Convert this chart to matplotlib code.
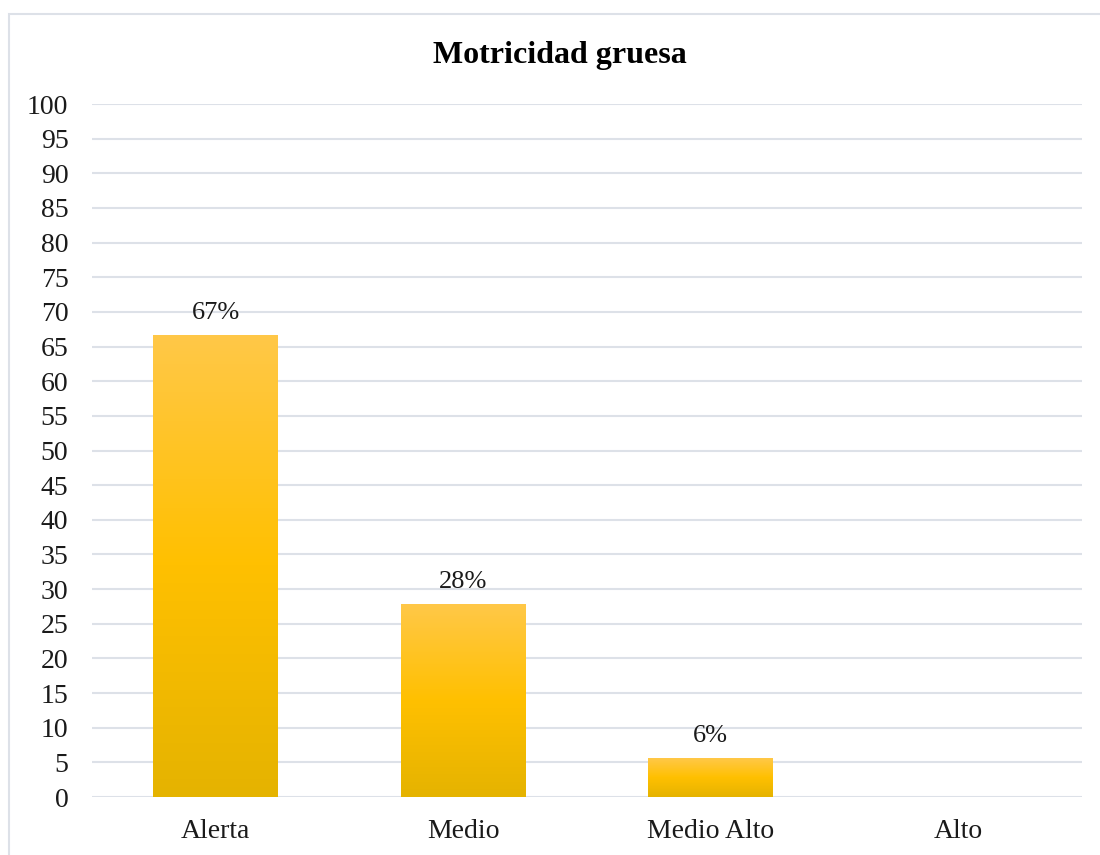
import matplotlib
matplotlib.use("Agg")
import matplotlib.pyplot as plt
import numpy as np
from matplotlib.colors import LinearSegmentedColormap
from matplotlib.patches import Rectangle

categories = ["Alerta", "Medio", "Medio Alto", "Alto"]
values = [66.7, 27.8, 5.6, 0.0]
labels = ["67%", "28%", "6%", ""]
yticks = list(range(0, 101, 5))
title = "Motricidad gruesa"

plt.rcParams['font.family'] = ['Liberation Serif', 'DejaVu Serif']

fig = plt.figure(figsize=(11, 8.55), dpi=100)
W, H = 1100, 855
ax = fig.add_axes([92 / W, 1 - 797 / H, (1082 - 92) / W, (797 - 104) / H])

# chart border
fig.patches.append(Rectangle((8.5 / W, 0 - 0.01), 1.02, 1 - 14.5 / H + 0.01,
                             transform=fig.transFigure, fill=False,
                             edgecolor='#DDE1E8', linewidth=1.5))

x = np.arange(len(categories))
bars = ax.bar(x, values, width=0.505, color='#FFC000', zorder=2)

cmap = LinearSegmentedColormap.from_list('gold', ['#E5B300', '#FFC000', '#FFC848'])
grad = np.linspace(0, 1, 256).reshape(-1, 1)
for b in bars:
    h = b.get_height()
    if h <= 0:
        continue
    x0 = b.get_x()
    im = ax.imshow(grad, cmap=cmap, origin='lower', aspect='auto',
                   extent=[x0, x0 + b.get_width(), 0, h], zorder=3)
    im.set_clip_path(b)

for b, lab in zip(bars, labels):
    if lab:
        ax.text(b.get_x() + b.get_width() / 2, b.get_height() + 1.6, lab,
                ha='center', va='bottom', fontsize=19, color='#1a1a1a')

ax.set_xlim(-0.5, len(categories) - 0.5)
ax.set_ylim(0, 100)
ax.set_yticks(yticks)
ax.set_xticks(x)
ax.set_xticklabels(categories)
ax.tick_params(axis='both', length=0, labelsize=20, colors='#1a1a1a')
ax.tick_params(axis='y', pad=17)
ax.tick_params(axis='x', pad=16)
ax.grid(axis='y', color='#DDE1E8', linewidth=1.5, zorder=0)
ax.set_axisbelow(True)
for s in ax.spines.values():
    s.set_visible(False)

fig.text(560 / W, 1 - 55 / H, title, ha='center', va='center',
         fontsize=23, fontweight='bold', color='#000000')

fig.savefig('out.png', dpi=100)
